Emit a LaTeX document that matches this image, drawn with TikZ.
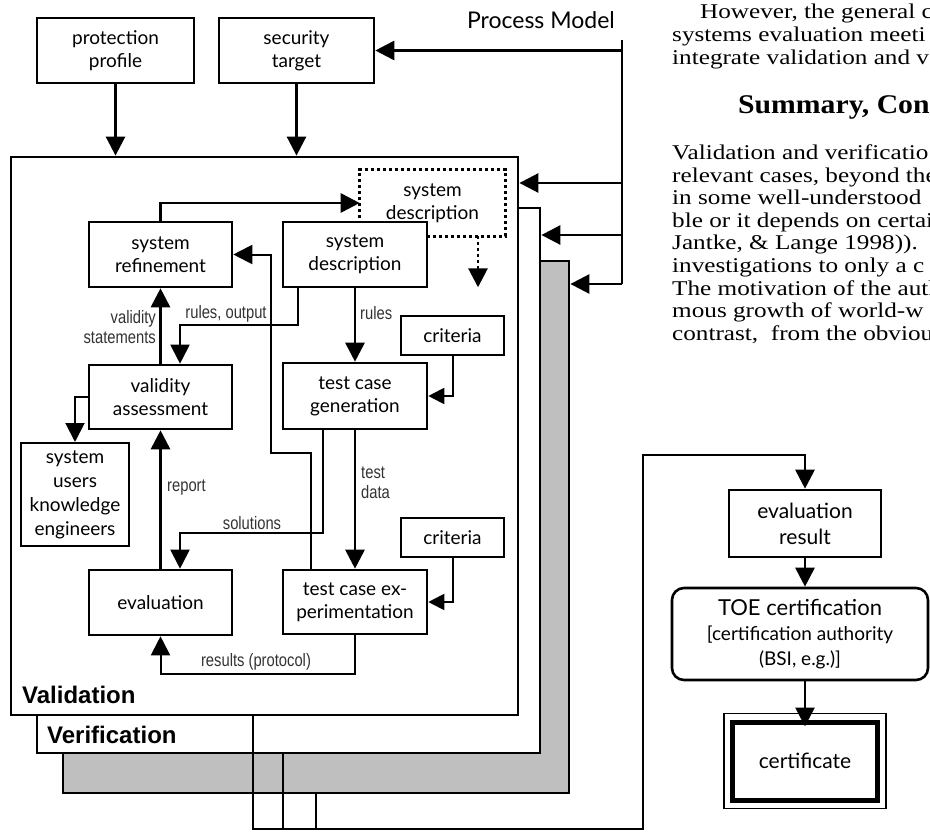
\documentclass[tikz,border=0pt]{standalone}
\usepackage{fontspec}
\setmainfont{Liberation Serif}
\newfontfamily\bodyfam[FakeStretch=1.2]{Liberation Serif}
\newfontfamily\headfam[FakeStretch=1.1]{Liberation Serif}
\newfontfamily\bxfam{Lato}
\newfontfamily\lblfam[FakeStretch=0.82]{Liberation Sans}
\newfontfamily\bldfam{Liberation Sans}
\usetikzlibrary{arrows.meta}
\tikzset{
  frame/.style={draw, line width=2.8pt, inner sep=0pt},
  bx/.style={draw, line width=2.6pt, fill=white, inner sep=0pt, align=center,
    font=\bxfam\fontsize{19}{23}\selectfont},
  thk/.style={line width=2.8pt},
  thn/.style={line width=2pt},
  arw/.style={-{Triangle[length=19pt,width=19pt]}},
  sarw/.style={-{Triangle[length=16pt,width=16pt]}},
  lbl/.style={font=\lblfam\fontsize{18}{20}\selectfont, text=black!80, inner sep=0pt, align=left},
  bodytxt/.style={anchor=base west, inner sep=0pt, font=\bodyfam\fontsize{21}{22.5}\selectfont},
}
\begin{document}
\begin{tikzpicture}[x=1pt,y=-1pt]
\useasboundingbox (0,0) rectangle (930,832);
\clip (0,0) rectangle (930,832);

% frames
\node[frame, fill=black!25, minimum width=506pt, minimum height=532pt] (gray) at (316,527) {};
\node[frame, fill=white, minimum width=503pt, minimum height=545pt] (ver) at (288.5,480.5) {};
\node[frame, fill=white, minimum width=507pt, minimum height=558pt] (val) at (264.5,436) {};
\node[anchor=west, inner sep=0pt, font=\bldfam\bfseries\fontsize{24}{26}\selectfont] (vallbl) at (22,695) {Validation};
\node[anchor=west, inner sep=0pt, font=\bldfam\bfseries\fontsize{24}{26}\selectfont] (verlbl) at (47,735) {Verification};

% top boxes
\node[bx, minimum width=157pt, minimum height=65pt] (pp) at (115.5,50.5) {protection\\profile};
\node[bx, minimum width=155pt, minimum height=65pt] (st) at (296.5,50.5) {security\\target};
\node[anchor=east, inner sep=0pt, font=\bxfam\fontsize{23}{25}\selectfont] (pmlbl) at (615,20) {Process Model};

\draw[thk, arw] (pp.south) -- (pp.south |- val.north);
\draw[thk, arw] (st.south) -- (st.south |- val.north);

% process model line
\coordinate (pmtop) at (622,40);
\coordinate (pmbot) at (622,284);
\coordinate (pm1) at (622,183);
\coordinate (pm2) at (622,235);
\draw[thk] (pmtop) -- (pmbot);
\draw[thk, arw] (pmtop |- st.east) -- (st.east);
\draw[thk, arw] (pm1) -- (pm1 -| val.east);
\draw[thk, arw] (pm2) -- (pm2 -| ver.east);
\draw[thk, arw] (pmbot) -- (pmbot -| gray.east);

% inner boxes
\node[bx, draw=none, fill=none, minimum width=143pt, minimum height=64pt] (dsd) at (432.5,203) {system\\description};
\draw[line width=2.6pt, dash pattern=on 3pt off 3pt] (dsd.south west) rectangle (dsd.north east);
\draw[thk, dash pattern=on 3pt off 3pt] ([xshift=45.5pt]dsd.south) -- ++(0,32) coordinate (dtip);
\draw[thk, arw] (dtip) -- ++(0,19) coordinate (dend);

\node[bx, minimum width=143pt, minimum height=65pt] (sysref) at (160.5,254.5) {system\\refinement};
\node[bx, minimum width=144pt, minimum height=65pt] (sysdesc) at (355,254.5) {system\\description};
\node[bx, minimum width=103pt, minimum height=39pt] (crit1) at (452.5,335.5) {criteria};
\node[bx, minimum width=144pt, minimum height=66pt] (tcg) at (355,396) {test case\\generation};
\node[bx, minimum width=143pt, minimum height=64pt] (va) at (160.5,397) {validity\\assessment};
\node[bx, line width=2pt, minimum width=108pt, minimum height=103pt, font=\bxfam\fontsize{19}{24}\selectfont] (users) at (75,494.5) {system\\users\\knowledge\\engineers};
\node[bx, minimum width=103pt, minimum height=39pt] (crit2) at (452.5,537.5) {criteria};
\node[bx, minimum width=143pt, minimum height=65pt] (eval) at (160.5,602.5) {evaluation};
\node[bx, minimum width=144pt, minimum height=64pt] (tce) at (355,602) {test case ex-\\perimentation};

% connectors
\draw[thk, arw] (sysref.north) |- (dsd.west);
\draw[thk, arw] (va.north) -- (sysref.south);
\node[lbl, anchor=east, align=right] (lvs) at (156,327) {validity\\statements};
\draw[thn, arw] ([xshift=-57pt]sysdesc.south) -- ++(0,37) -| ([xshift=19.5pt]va.north);
\node[lbl, anchor=south] (lro) at (226,322) {rules, output};
\draw[thk, arw] (sysdesc.south) -- (tcg.north);
\node[lbl, anchor=west] (lrules) at (360,313) {rules};
\draw[thn, sarw] (crit1.south) |- (tcg.east);
\draw[thn, arw] (va.west) -| (users.north);
\draw[thk, arw] (tcg.south) -- (tce.north);
\node[lbl, anchor=west] (ltd) at (361,483) {test\\data};
\draw[thn, arw] ([xshift=-32pt]tcg.south) -- ++(0,103) -| ([xshift=19.5pt]eval.north);
\node[lbl, anchor=south] (lsol) at (252,530) {solutions};
\draw[thn, arw] ([xshift=-44pt]tce.north) -- ++(0,-116) -- ++(-40,0) |- (sysref.east);
\draw[thn, sarw] (crit2.south) |- (tce.east);
\draw[thk, arw] (eval.north) -- (va.south);
\node[lbl, anchor=west] (lrep) at (167,488) {report};
\draw[thn, arw] (tce.south) -- ++(0,39) -| (eval.south);
\node[lbl, anchor=south] (lres) at (256,670) {results (protocol)};

% right column
\node[bx, minimum width=152pt, minimum height=67pt, font=\bxfam\fontsize{21}{26}\selectfont] (evres) at (805,523.5) {evaluation\\result};
\node[bx, rounded corners=12pt, minimum width=256pt, minimum height=92pt, font=\bxfam\fontsize{19}{25}\selectfont] (toe) at (800,634) {{\fontsize{22}{26}\selectfont TOE certification}\\{}[certification authority\\(BSI, e.g.)]};
\node[bx, line width=5pt, minimum width=145pt, minimum height=78pt, font=\bxfam\fontsize{21}{26}\selectfont] (cert) at (805,761) {certificate};
\draw[line width=1.3pt] ([shift={(-6,-6)}]cert.north west) rectangle ([shift={(6,6)}]cert.south east);
\draw[thk, arw] (evres.south) -- (evres.south |- toe.north);
\draw[thk, arw] (cert.north |- toe.south) -- ([yshift=-7pt]cert.north);

% bottom connectors
\coordinate (bl) at (643,829);
\coordinate (bt) at (643,455);
\draw[thk, arw] ([xshift=-11.5pt]val.south) |- (bl) -- (bt) -| (evres.north);
\draw[thk] ([xshift=-5.5pt]ver.south) -- ([xshift=-5.5pt]ver.south |- bl);
\draw[thk] (gray.south) -- (gray.south |- bl);

% body text
\node[bodytxt] (t1) at (700,19) {However, the general c};
\node[bodytxt] (t2) at (672,42) {systems evaluation meeti};
\node[bodytxt] (t3) at (672,64.5) {integrate validation and ve};
\node[bodytxt, font=\headfam\bfseries\fontsize{27}{28}\selectfont] (t4) at (738,114) {Summary, Con};
\node[bodytxt] (t5) at (672,160) {Validation and verificatio};
\node[bodytxt] (t6) at (672,182.5) {relevant cases, beyond the};
\node[bodytxt] (t7) at (672,205) {in some well-understood};
\node[bodytxt] (t8) at (672,227.5) {ble or it depends on certai};
\node[bodytxt] (t9) at (672,250) {Jantke, \& Lange 1998)).};
\node[bodytxt] (t10) at (672,272.5) {investigations to only a c};
\node[bodytxt] (t11) at (672,295) {The motivation of the auth};
\node[bodytxt] (t12) at (672,317.5) {mous growth of world-w};
\node[bodytxt] (t13) at (672,340) {contrast, \ from the obviou};
\end{tikzpicture}
\end{document}
